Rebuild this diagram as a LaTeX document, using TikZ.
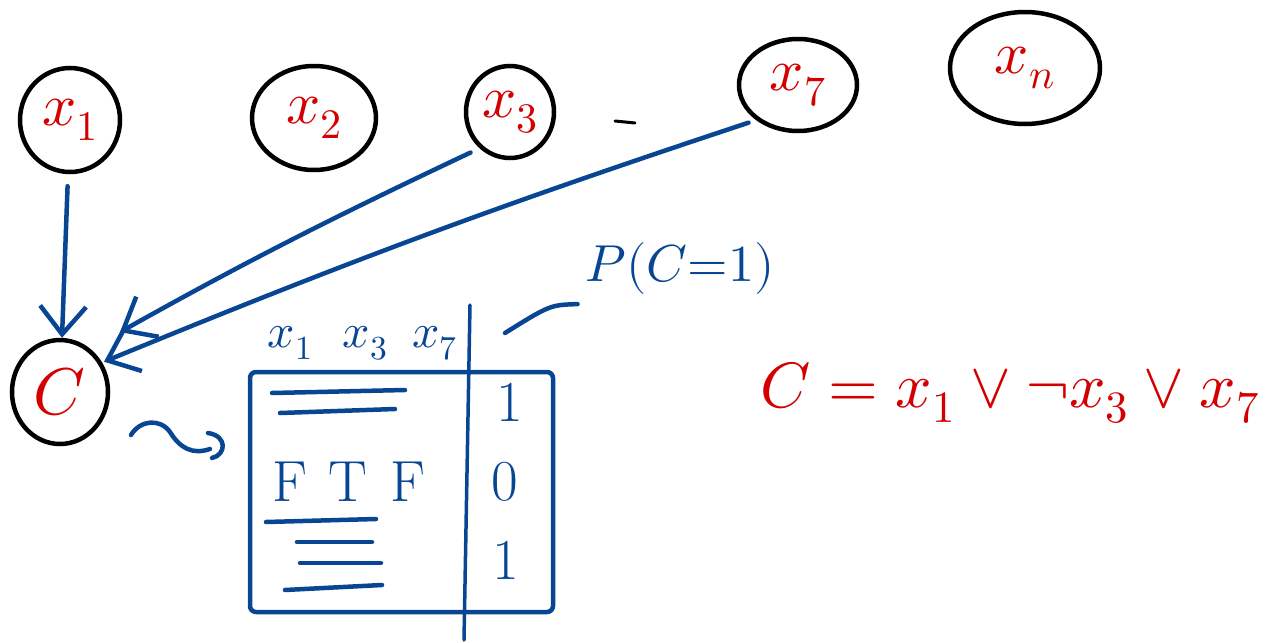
\documentclass[tikz,border=0pt]{standalone}
\usepackage{unicode-math}
\usetikzlibrary{shapes.geometric,arrows.meta}
\definecolor{inkred}{RGB}{212,0,0}
\definecolor{inkblue}{RGB}{8,70,148}
\tikzset{
  var/.style={ellipse,draw=black,line width=4.5pt,inner sep=0pt,text=inkred,font=\fontsize{60}{60}\selectfont},
  arr/.style={draw=inkblue,line width=4.5pt,line cap=round,-{Straight Barb[length=28pt,width=46pt,line width=4.5pt]}},
  ink/.style={draw=inkblue,line width=4.5pt,line cap=round,line join=round},
  bluetxt/.style={text=inkblue,inner sep=0pt},
}
\begin{document}
\begin{tikzpicture}[x=1pt,y=-1pt]
\useasboundingbox (0,0) rectangle (1286,643);
% variable nodes
\node[var,minimum width=100pt,minimum height=104pt] (x1) at (70,120) {$x_1$};
\node[var,minimum width=124pt,minimum height=104pt] (x2) at (314,118) {$x_2$};
\node[var,minimum width=88pt,minimum height=92pt] (x3) at (510,112) {$x_3$};
\node[var,minimum width=118pt,minimum height=92pt] (x7) at (798,85) {$x_7$};
\node[var,minimum width=150pt,minimum height=112pt] (xn) at (1025,68) {$x_n$};
\node[var,minimum width=96pt,minimum height=104pt,font=\fontsize{66}{66}\selectfont] (C) at (60,392) {$C$};
% ellipsis dash
\coordinate (d1) at (615,121);
\coordinate (d2) at (635,123);
\draw[black,line width=3pt,line cap=round] (d1) -- (d2);
% arrows into C
\draw[arr,shorten <=12pt] (x1) -- (C);
\draw[arr,shorten <=10pt,shorten >=34pt] (x3.-130) to[bend right=2] (C.55);
\draw[arr,shorten <=8pt,shorten >=2pt] (x7.-140) to[bend right=2] (C.35);
% squiggle
\coordinate (s0) at (131,435);
\coordinate (s1) at (210,449);
\draw[ink] (s0) .. controls (140,420) and (160,418) .. (170,432) .. controls (180,448) and (192,455) .. (s1);
\coordinate (sa) at (208,433);
\coordinate (sb) at (212,458);
\draw[ink] (sa) .. controls (228,436) and (226,455) .. (sb);
% table
\coordinate (tl) at (250,372);
\coordinate (br) at (553,612);
\draw[ink,rounded corners=6pt] (tl) rectangle (br);
\coordinate (vt) at (470,305);
\coordinate (vb) at (464,640);
\draw[ink,line width=3.5pt] (vt) -- (vb);
% header
\node[bluetxt,font=\fontsize{48}{48}\selectfont] (h1) at (290,343) {$x_1$};
\node[bluetxt,font=\fontsize{48}{48}\selectfont] (h3) at (365,343) {$x_3$};
\node[bluetxt,font=\fontsize{48}{48}\selectfont] (h7) at (435,343) {$x_7$};
% rows
\coordinate (r1a) at (272,393); \coordinate (r1b) at (405,390);
\draw[ink] (r1a) -- (r1b);
\coordinate (r2a) at (280,413); \coordinate (r2b) at (395,409);
\draw[ink] (r2a) -- (r2b);
\node[bluetxt,font=\fontsize{58}{58}\selectfont] (f1) at (290,482) {F};
\node[bluetxt,font=\fontsize{58}{58}\selectfont] (t2) at (348,482) {T};
\node[bluetxt,font=\fontsize{58}{58}\selectfont] (f3) at (408,482) {F};
\coordinate (r4a) at (266,522); \coordinate (r4b) at (376,519);
\draw[ink] (r4a) -- (r4b);
\coordinate (r5a) at (297,542); \coordinate (r5b) at (372,542);
\draw[ink] (r5a) -- (r5b);
\coordinate (r6a) at (300,563); \coordinate (r6b) at (381,563);
\draw[ink] (r6a) -- (r6b);
\coordinate (r7a) at (285,590); \coordinate (r7b) at (382,585);
\draw[ink] (r7a) -- (r7b);
\node[bluetxt,font=\fontsize{58}{58}\selectfont] (v1) at (510,402) {1};
\node[bluetxt,font=\fontsize{58}{58}\selectfont] (v2) at (505,482) {0};
\node[bluetxt,font=\fontsize{58}{58}\selectfont] (v3) at (506,560) {1};
% P(C=1)
\node[bluetxt,font=\fontsize{52}{52}\selectfont] (P) at (680,268) {$P(C{=}1)$};
\coordinate (pe) at (505,333);
\draw[ink] (P.south west) ++(-8,10) coordinate (ps) .. controls (550,305) .. (pe);
% clause
\node[text=inkred,inner sep=0pt,font=\fontsize{64}{64}\selectfont] (eq) at (1010,393) {$C = x_1 \lor \neg x_3 \lor x_7$};
\end{tikzpicture}
\end{document}
